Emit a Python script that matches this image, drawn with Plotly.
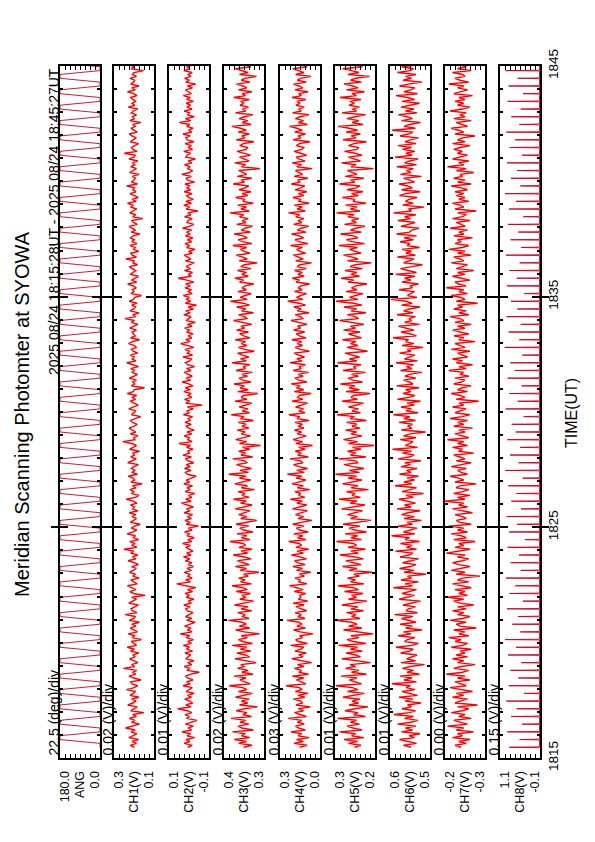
import plotly.graph_objects as go

# ---------------- data (5 s samples from 18:15:28 UT) ----------------
start_sec = 28          # seconds after 18:15:00
step_sec = 5

ang_deg = [
0,0,0,90,180,180,180,90,0,0,0,90,180,180,180,90,0,0,0,90,180,180,180,90,
0,0,0,90,180,180,180,90,0,0,0,90,180,180,180,90,0,0,0,90,180,180,180,90,
0,0,0,90,180,180,180,90,0,0,0,90,180,180,180,90,0,0,0,90,180,180,180,90,
0,0,0,90,180,180,180,90,0,0,0,90,180,180,180,90,0,0,0,90,180,180,180,90,
0,0,0,90,180,180,180,90,0,0,0,90,180,180,180,90,0,0,0,90,180,180,180,90,
0,0,0,90,180,180,180,90,0,0,0,90,180,180,180,90,0,0,0,90,180,180,180,90,
0,0,0,90,180,180,180,90,0,0,0,90,180,180,180,90,0,0,0,90,180,180,180,90,
0,0,0,90,180,180,180,90,0,0,0,90,180,180,180,90,0,0,0,90,180,180,180,90,
0,0,0,90,180,180,180,90,0,0,0,90,180,180,180,90,0,0,0,90,180,180,180,90,
0,0,0,90,180,180,180,90,0,0,0,90,180,180,180,90,0,0,0,90,180,180,180,90,
0,0,0,90,180,180,180,90,0,0,0,90,180,180,180,90,0,0,0,90,180,180,180,90,
0,0,0,90,180,180,180,90,0,0,0,90,180,180,180,90,0,0,0,90,180,180,180,90,
0,0,0,90,180,180,180,90,0,0,0,90,180,180,180,90,0,0,0,90,180,180,180,90,
0,0,0,90,180,180,180,90,0,0,0,90,180,180,180,90,0,0,0,90,180,180,180,90,
0,0,0,90,180,180,180,90,0,0,0,90,180,180,180,90,0,0,0,90,180,180,180,90]

ch1_mv = [
178,195,170,188,162,201,183,169,192,175,214,181,158,190,176,199,171,185,140,193,180,167,205,184,
172,189,160,196,183,174,210,179,165,187,193,152,181,200,173,186,169,222,177,190,164,182,198,175,
185,161,194,178,207,170,183,191,150,188,176,203,166,184,195,172,189,158,199,181,174,215,168,187,
192,177,163,201,184,170,189,135,182,196,173,188,206,167,180,193,159,185,174,198,183,171,190,162,
179,204,172,186,165,193,181,220,168,189,176,197,161,184,174,208,183,169,191,178,155,195,182,170,
188,173,199,164,185,178,194,168,183,211,175,160,190,181,196,172,186,147,192,177,184,203,166,189,
175,191,180,162,205,187,171,193,178,184,158,198,182,170,189,225,176,181,164,195,173,188,200,179,
167,186,194,176,153,190,182,172,201,185,163,180,196,174,188,169,207,183,178,138,191,177,185,170,
199,181,166,189,176,193,162,184,209,172,187,179,195,165,183,190,171,178,202,186,158,194,175,182,
188,170,197,183,164,191,178,216,173,185,160,196,181,174,189,168,199,183,176,150,192,180,187,171,
184,205,169,190,177,162,195,182,173,188,198,166,184,179,212,170,187,193,161,181,175,196,168,189,
178,194,183,157,191,174,186,200,167,182,190,145,185,173,197,180,169,192,184,206,171,188,163,179,
196,172,185,178,209,166,190,181,174,187,159,198,183,170,193,177,186,164,200,181,175,219,168,184,
190,176,162,195,183,171,188,199,167,180,192,174,185,153,197,179,186,170,191,182,165,203,177,188,
172,185,194,168,181,206,175,189,160,193,182,177,196,170,186,180,142,191,178,199,174,187,164,183]

ch2_mv = [
3,-8,12,-2,7,-14,5,-4,18,-6,2,-11,9,-3,-20,6,-1,10,-7,4,28,-5,8,-9,
-2,11,-6,4,-13,7,0,-8,15,-3,6,-10,2,9,-5,-26,5,-2,12,-7,3,-12,8,1,
-4,10,-9,6,-1,14,-6,3,-11,7,-2,22,-8,4,-5,11,-3,-15,6,-7,9,0,-10,5,
8,-3,13,-6,2,-12,7,-1,10,-9,4,-17,6,31,-4,8,-8,3,-2,12,-6,5,-11,2,
-7,9,-2,14,-5,6,-10,1,8,-4,16,-7,3,-13,5,-1,11,-8,2,-24,7,-3,10,-6,
4,-9,12,-2,6,-11,3,19,-5,8,-7,1,-14,10,-3,5,-9,13,-1,7,-6,-18,4,9,
-5,11,-3,7,-12,2,9,-6,15,-2,4,-10,6,-4,25,-8,3,-1,12,-7,5,-13,1,8,
-6,10,-4,3,-9,14,-1,6,-11,4,-33,8,-2,11,-7,2,-5,13,-3,9,-10,1,17,-4,
7,-8,2,12,-5,6,-14,3,9,-2,-6,15,-9,4,-1,10,-12,5,21,-3,8,-7,2,-10,
6,-2,11,-8,4,-16,7,1,-5,13,-3,8,-11,2,-19,9,-4,6,-1,14,-8,3,-6,10,
-3,8,-12,5,27,-6,2,-9,11,-4,7,-1,-13,9,-5,3,12,-8,1,-15,6,-2,10,-7,
4,-10,9,-3,6,-7,16,-1,-12,5,2,-8,11,-5,3,-22,7,-2,13,-6,8,-11,1,6,
-8,12,-4,5,-2,10,-14,3,7,-6,18,-1,-9,4,-3,11,-7,2,-16,8,5,-4,13,-9,
2,-6,10,-12,4,8,-3,15,-7,1,-10,6,-2,24,-5,9,-13,3,-1,12,-8,5,-4,7,
-11,6,-3,14,-6,2,9,-9,4,-17,8,-1,11,-5,3,-8,13,-2,6,-12,1,20,-7,4]

ch3_mv = [
352,318,371,340,389,327,360,345,396,312,358,374,331,366,343,402,320,355,338,381,349,296,368,335,
361,329,384,347,317,372,338,356,409,325,351,367,342,390,314,359,333,376,348,363,301,352,386,328,
345,378,322,364,339,397,316,355,372,336,361,288,349,383,327,369,341,356,412,330,358,345,375,319,
362,334,388,350,311,367,343,359,324,381,337,355,398,320,364,346,371,333,352,290,366,340,384,329,
357,376,321,349,393,335,362,318,370,344,353,406,326,360,339,378,314,351,367,331,382,347,299,363,
338,371,345,326,385,352,317,364,340,392,329,358,346,374,308,361,336,387,350,323,369,342,411,332,
366,320,354,380,337,348,395,315,362,343,371,327,356,284,368,339,383,349,324,361,345,377,330,358,
341,373,312,364,350,401,328,357,334,369,346,319,386,338,361,352,295,375,333,366,348,390,322,354,
370,336,359,317,382,344,353,327,398,340,364,331,356,376,309,349,372,338,361,344,385,326,351,367,
332,380,347,362,319,355,392,336,349,371,312,360,343,379,328,353,404,337,365,346,321,374,340,358,
345,311,368,351,386,333,359,340,376,322,363,348,297,369,337,355,381,326,350,364,339,395,318,356,
373,337,352,389,324,361,346,316,379,342,357,333,368,351,406,329,362,340,375,313,354,347,383,335,
358,322,370,345,331,393,348,362,319,377,339,355,371,286,360,344,387,330,353,368,324,349,378,341,
336,367,352,310,381,346,359,329,373,341,364,399,321,357,335,370,348,315,384,343,356,332,366,350,
363,329,391,344,357,318,372,338,354,380,326,361,347,300,368,334,359,385,323,350,371,339,362,345]

ch4_mv = [
152,108,187,131,170,96,162,141,205,118,158,177,124,166,139,221,112,149,183,129,160,88,174,135,
146,190,121,163,102,178,137,155,233,115,150,171,128,196,99,157,140,184,126,165,80,147,199,132,
158,113,181,144,127,206,105,161,176,134,153,72,149,188,117,169,138,156,228,120,163,142,179,110,
137,174,126,192,103,160,145,151,116,185,131,166,212,108,157,148,180,123,154,85,171,135,193,119,
163,182,111,150,201,129,168,98,175,140,155,218,114,164,133,187,101,152,172,125,194,143,78,161,
128,177,147,106,195,156,110,169,136,208,121,159,146,181,92,166,130,198,152,115,173,139,226,124,
170,105,155,189,132,148,210,100,164,142,178,119,158,75,175,134,192,147,113,167,141,184,126,160,
136,180,97,168,151,216,120,157,129,176,145,104,197,133,165,154,83,185,127,171,149,203,109,156,
181,131,162,99,191,143,154,118,209,138,169,123,157,186,94,149,179,134,167,140,199,114,153,172,
122,189,146,165,107,158,204,130,148,178,96,166,142,187,116,155,224,133,171,145,111,183,137,161,
144,93,174,152,196,125,163,136,182,112,168,150,81,176,131,159,190,117,151,170,135,206,102,158,
179,128,154,200,114,166,143,98,188,139,162,126,175,152,219,118,167,136,184,95,156,147,193,127,
160,109,178,145,121,202,149,165,103,185,134,157,177,77,169,141,197,120,154,173,111,146,186,138,
127,172,153,90,191,144,162,117,181,137,168,213,106,160,129,178,148,97,195,142,159,124,174,150,
168,115,198,141,157,101,180,132,155,189,112,166,146,84,176,126,161,194,107,150,179,133,167,145]

ch5_mv = [
251,238,263,245,272,232,257,249,281,236,254,266,241,259,247,285,229,253,244,270,250,224,262,243,
256,240,274,248,231,265,244,255,288,237,252,261,246,278,227,257,242,269,249,260,219,251,276,239,
248,268,235,259,245,283,228,254,266,242,258,214,250,273,236,263,246,256,290,240,257,248,267,233,
258,244,276,251,226,263,247,257,234,271,243,254,284,232,259,249,265,241,252,216,262,246,275,238,
255,268,233,250,280,243,258,229,264,247,253,287,237,258,245,270,227,251,262,240,274,248,218,259,
245,265,249,235,277,253,230,260,246,282,239,256,250,267,223,258,244,275,251,236,264,247,289,241,
261,232,254,272,244,249,283,228,259,248,265,238,255,212,263,245,273,250,236,258,247,269,240,256,
246,267,227,260,251,286,239,256,243,263,249,233,276,245,258,253,220,268,241,262,250,279,235,254,
264,243,257,229,274,248,253,238,285,246,261,241,256,270,225,250,266,244,259,248,275,237,252,263,
240,273,249,259,232,255,281,243,250,265,228,258,247,272,236,253,288,244,261,249,234,268,246,257,
248,226,264,252,278,241,258,246,270,235,260,250,217,265,244,255,273,238,251,261,245,282,231,256,
267,244,253,279,237,259,249,230,271,247,257,242,264,252,287,240,259,246,269,228,254,250,275,243,
257,234,266,248,240,281,250,259,232,270,246,255,265,213,258,248,277,239,253,263,236,250,271,246,
243,263,252,227,274,248,258,239,268,245,261,284,234,256,242,266,250,229,276,247,255,241,262,251,
260,238,280,247,256,231,267,244,254,272,237,259,249,221,264,242,257,275,235,251,266,245,260,249]

ch6_mv = [
548,563,537,556,571,541,552,530,567,545,559,538,575,549,534,561,543,582,551,539,566,547,555,528,
560,544,572,535,553,566,540,558,549,586,537,562,546,570,531,556,543,565,550,521,568,539,557,547,
536,569,551,543,578,546,533,561,555,540,574,548,563,526,559,545,570,538,552,567,544,581,535,558,
553,539,564,548,529,572,556,541,566,550,537,583,545,560,533,568,547,555,518,562,542,571,549,538,
565,548,533,570,552,544,579,537,557,546,569,531,560,551,587,540,563,549,536,574,545,556,527,562,
541,567,554,530,576,548,561,539,553,572,543,558,523,566,550,537,580,546,562,541,556,533,571,548,
557,536,568,549,560,528,574,552,542,565,547,585,535,559,551,544,570,538,563,549,519,567,546,555,
545,572,539,562,550,583,534,558,547,568,541,556,529,575,553,540,564,548,559,532,577,544,551,563,
538,560,552,526,569,546,557,543,578,535,561,550,540,571,548,556,524,566,542,559,553,584,537,549,
568,542,555,573,531,561,547,552,539,576,544,563,551,530,567,546,558,588,536,555,549,541,572,545,
550,533,566,548,561,540,579,537,554,569,545,525,563,552,542,575,539,558,547,566,531,556,550,570,
543,562,537,577,551,546,532,568,556,540,574,549,561,538,583,547,553,522,565,544,559,552,536,571,
559,530,567,545,555,572,541,550,563,527,569,548,557,543,576,537,561,551,534,580,546,558,540,565,
547,574,538,560,549,533,570,553,544,586,539,562,551,529,567,545,556,573,536,559,542,568,550,531,
566,541,555,578,535,562,548,540,571,553,526,564,547,559,538,575,550,543,567,532,558,549,581,544]

ch7_mv = [
-243,-238,-247,-241,-250,-236,-244,-240,-253,-239,-245,-232,-248,-242,-237,-251,-241,-246,-235,-244,-249,-240,-256,-238,
-242,-248,-236,-245,-239,-252,-241,-234,-247,-243,-238,-250,-240,-246,-231,-244,-249,-237,-243,-254,-240,-245,-236,-248,
-239,-246,-242,-251,-235,-244,-248,-238,-243,-233,-249,-241,-246,-237,-255,-242,-239,-247,-234,-244,-250,-240,-245,-236,
-247,-240,-253,-242,-237,-245,-232,-248,-241,-246,-238,-251,-243,-236,-249,-240,-244,-258,-239,-246,-235,-243,-250,-241,
-236,-244,-249,-240,-246,-231,-242,-250,-238,-245,-241,-254,-237,-247,-243,-235,-248,-240,-245,-233,-251,-242,-239,-247,
-244,-238,-252,-243,-236,-248,-241,-245,-230,-246,-240,-250,-237,-244,-249,-239,-242,-255,-238,-245,-241,-234,-248,-243,
-240,-247,-235,-243,-251,-239,-246,-242,-237,-253,-241,-244,-236,-248,-240,-245,-232,-249,-243,-238,-246,-241,-252,-237,
-245,-240,-248,-234,-244,-250,-238,-243,-247,-236,-245,-241,-257,-239,-246,-242,-235,-248,-240,-244,-251,-237,-243,-246,
-238,-249,-242,-245,-233,-247,-241,-252,-239,-244,-236,-248,-243,-240,-250,-235,-246,-242,-238,-254,-241,-245,-237,-249,
-243,-236,-246,-240,-251,-238,-245,-242,-234,-249,-241,-247,-237,-244,-240,-256,-239,-246,-243,-235,-248,-241,-245,-231,
-247,-241,-238,-250,-243,-236,-246,-240,-253,-239,-244,-248,-235,-245,-242,-237,-251,-240,-246,-233,-244,-249,-238,-243,
-240,-252,-237,-245,-241,-248,-234,-246,-243,-239,-250,-236,-244,-247,-240,-255,-238,-245,-242,-236,-249,-241,-246,-239,
-245,-238,-248,-243,-235,-251,-240,-246,-237,-244,-242,-253,-239,-247,-232,-245,-241,-249,-236,-243,-248,-240,-244,-237,
-242,-250,-236,-246,-240,-244,-254,-238,-245,-241,-235,-248,-243,-239,-251,-237,-246,-242,-247,-234,-244,-250,-240,-245,
-238,-246,-241,-252,-237,-243,-248,-240,-245,-233,-249,-242,-238,-246,-244,-236,-251,-240,-247,-243,-239,-255,-241,-244]

# CH8: one spike per 20 s scan, baseline between spikes
ch8_scan_sec = 20
ch8_base_mv = -86
ch8_peak_mv = [
820,510,880,440,770,600,910,380,840,550,790,460,860,620,950,
490,730,560,890,410,810,640,920,480,780,530,870,350,830,590,
900,470,760,610,850,420,940,540,800,500,880,630,750,390,930,
570,820,450,870,660,790,430,960,520,840,480,900,580,770,370,
890,600,820,510,920,460,780,550,860,400,830,620,950,490,770,
590,890,440,810,650,910,520,760,480,870,410,840,570,930,500]

channel_names = ["ANG", "CH1(V)", "CH2(V)", "CH3(V)", "CH4(V)", "CH5(V)", "CH6(V)", "CH7(V)", "CH8(V)"]
div_labels = ["22.5 (deg)/div", "0.02 (V)/div", "0.01 (V)/div", "0.02 (V)/div", "0.03 (V)/div",
              "0.01 (V)/div", "0.01 (V)/div", "0.00 (V)/div", "0.15 (V)/div"]
range_max = [180.0, 0.26, 0.05, 0.43, 0.27, 0.29, 0.59, -0.230, 1.1]
range_min = [0.0, 0.10, -0.05, 0.27, 0.03, 0.21, 0.51, -0.262, -0.1]
max_labels = ["180.0", "0.3", "0.1", "0.4", "0.3", "0.3", "0.6", "-0.2", "1.1"]
min_labels = ["0.0", "0.1", "-0.1", "0.3", "0.0", "0.2", "0.5", "-0.3", "-0.1"]
time_tick_min = [0, 10, 20, 30]
time_tick_labels = ["1815", "1825", "1835", "1845"]

title_text = "Meridian Scanning Photomter at SYOWA"
period_text = "2025 08/24 18:15:28UT - 2025 08/24 18:45:27UT"
time_axis_title = "TIME(UT)"

# ---------------- build series ----------------
def sampled(values, factor):
    xs = [v * factor for v in values]
    ts = [(start_sec + k * step_sec) / 60.0 for k in range(len(values))]
    return xs, ts

series = [sampled(ang_deg, 1.0)]
for vals in [ch1_mv, ch2_mv, ch3_mv, ch4_mv, ch5_mv, ch6_mv, ch7_mv]:
    series.append(sampled(vals, 0.001))
ch8_x, ch8_t = [], []
for k, p in enumerate(ch8_peak_mv):
    ts = start_sec + k * ch8_scan_sec
    for dt, v in ((-1, ch8_base_mv), (0, p), (1, ch8_base_mv)):
        ch8_x.append(v * 0.001)
        ch8_t.append((ts + dt) / 60.0)
series.append((ch8_x, ch8_t))

# ---------------- layout geometry (pixels on the 595x842 page) ----------------
W, H = 595, 842
panel_left = [60, 114, 169, 224, 280, 335, 390, 445, 500]
panel_w = 40
top_px, bot_px = 66, 758
FONT = "Liberation Sans, Arial, Helvetica, sans-serif"
line_colors = ["#c8001e"] + ["#ff0000"] * 7 + ["#c8001e"]
line_widths = [0.9] + [1.4] * 7 + [0.9]
label_shift = 3.5

fig = go.Figure()
layout = dict(
    width=W, height=H, margin=dict(l=0, r=0, t=0, b=0, autoexpand=False),
    paper_bgcolor="white", plot_bgcolor="white", showlegend=False,
    hovermode=False, font=dict(family=FONT, color="black"),
)

ydom = [1 - bot_px / H, 1 - top_px / H]
n = len(channel_names)
for i in range(n):
    xs, ts = series[i]
    fig.add_trace(go.Scatter(
        x=xs, y=ts, mode="lines", line=dict(color=line_colors[i], width=line_widths[i]),
        xaxis=f"x{i+1}", yaxis=f"y{i+1}", hoverinfo="skip"))
    # empty trace so the overlaid tick axis is created
    fig.add_trace(go.Scatter(x=[None], y=[None], xaxis=f"x{i+1}", yaxis=f"y{i+1+n}",
                             hoverinfo="skip"))

    vmax, vmin = range_max[i], range_min[i]
    div = (vmax - vmin) / 8.0
    l = panel_left[i]
    key = "" if i == 0 else str(i + 1)
    layout[f"xaxis{key}"] = dict(
        domain=[l / W, (l + panel_w) / W], range=[vmax, vmin], anchor=f"y{i+1}",
        automargin=False,
        showline=True, linecolor="black", linewidth=2, mirror="ticks",
        ticks="inside", ticklen=0, tickmode="array",
        tickvals=[vmax - div, (vmax + vmin) / 2.0, vmin + div],
        ticktext=[max_labels[i], channel_names[i], min_labels[i]],
        tickangle=-90, tickfont=dict(size=12.5, family=FONT, color="black"),
        ticklabelstandoff=6,
        showgrid=False, zeroline=False, fixedrange=True,
        minor=dict(ticks="inside", ticklen=4, tickwidth=1, tickcolor="black",
                   tickmode="array", tickvals=[vmin + k * div for k in range(1, 8)]),
    )
    last = (i == n - 1)
    layout[f"yaxis{i+1}"] = dict(
        domain=ydom, range=[0, 30], anchor=f"x{i+1}", automargin=False,
        side="right" if last else "left",
        showline=True, linecolor="black", linewidth=2, mirror="ticks",
        ticks="inside", ticklen=8, tickwidth=2, tickcolor="black",
        tickmode="array", tickvals=time_tick_min, ticktext=time_tick_labels,
        showticklabels=last, tickangle=-90,
        tickfont=dict(size=13.5, family=FONT, color="black"),
        showgrid=False, zeroline=False, fixedrange=True,
        minor=dict(ticks="inside", ticklen=3, tickwidth=1.5, tickcolor="black",
                   dtick=1, tick0=0),
    )
    layout[f"yaxis{i+1+n}"] = dict(
        overlaying=f"y{i+1}", anchor=f"x{i+1}", range=[0, 30], automargin=False,
        side="right" if last else "left",
        showline=False, mirror="ticks", ticks="outside", ticklen=8, tickwidth=2,
        tickcolor="black", tickmode="array", tickvals=time_tick_min[1:-1],
        showticklabels=False, showgrid=False, zeroline=False, fixedrange=True,
    )

annotations = []
for i in range(n):
    annotations.append(dict(
        text=div_labels[i], xref="paper", yref="paper",
        x=panel_left[i] / W, y=1 - bot_px / H, xanchor="right", yanchor="bottom",
        xshift=label_shift, textangle=-90, showarrow=False,
        font=dict(size=14, family=FONT, color="black")))
annotations.append(dict(
    text=period_text, xref="paper", yref="paper",
    x=panel_left[0] / W, y=1 - top_px / H, xanchor="right", yanchor="top",
    xshift=label_shift, textangle=-90, showarrow=False,
    font=dict(size=14, family=FONT, color="black")))
annotations.append(dict(
    text=title_text, xref="paper", yref="paper",
    x=22 / W, y=1 - 414 / H, xanchor="center", yanchor="middle",
    textangle=-90, showarrow=False, font=dict(size=20, family=FONT, color="black")))
annotations.append(dict(
    text=time_axis_title, xref="paper", yref="paper",
    x=571 / W, y=1 - 413 / H, xanchor="center", yanchor="middle",
    textangle=-90, showarrow=False, font=dict(size=16, family=FONT, color="black")))
layout["annotations"] = annotations

fig.update_layout(**layout)
fig.write_html("out.html", config={"displayModeBar": False},
               post_script="document.body.style.margin='0';document.body.style.padding='0';")
